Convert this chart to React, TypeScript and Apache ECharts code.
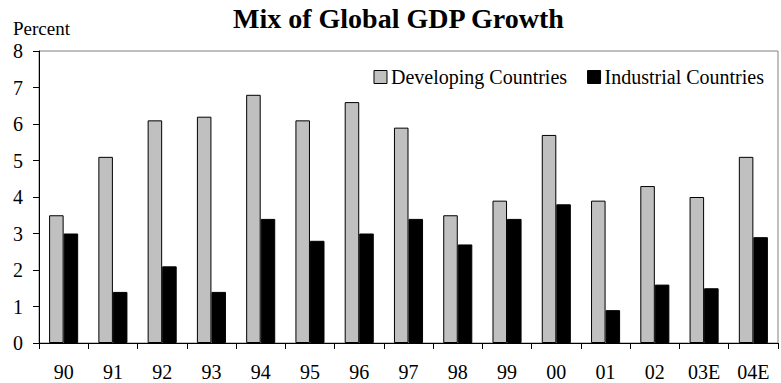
import React, { useEffect, useRef } from "react";
import * as echarts from "echarts";

const years = ["90", "91", "92", "93", "94", "95", "96", "97", "98", "99", "00", "01", "02", "03E", "04E"];
const developing = [3.5, 5.1, 6.1, 6.2, 6.8, 6.1, 6.6, 5.9, 3.5, 3.9, 5.7, 3.9, 4.3, 4.0, 5.1];
const industrial = [3.0, 1.4, 2.1, 1.4, 3.4, 2.8, 3.0, 3.4, 2.7, 3.4, 3.8, 0.9, 1.6, 1.5, 2.9];

const FONT = "Liberation Serif";

export default function App() {
  const ref = useRef<HTMLDivElement>(null);

  useEffect(() => {
    if (!ref.current) return;
    const chart = echarts.init(ref.current, null, { renderer: "svg" });
    chart.setOption({
      animation: false,
      backgroundColor: "#ffffff",
      textStyle: { fontFamily: FONT, color: "#000" },
      title: {
        text: "Mix of Global GDP Growth",
        left: 233,
        top: 4,
        padding: 0,
        textStyle: { fontFamily: FONT, fontWeight: "bold", fontSize: 28, color: "#000" },
      },
      graphic: [
        {
          type: "text",
          left: 13,
          top: 19,
          style: { text: "Percent", fontFamily: FONT, fontSize: 19, fill: "#000" },
        },
      ],
      legend: {
        right: 17,
        top: 67,
        padding: 0,
        itemWidth: 13,
        itemHeight: 13,
        itemGap: 20,
        icon: "rect",
        textStyle: { fontFamily: FONT, fontSize: 20, color: "#000", padding: [0, 0, 0, -1] },
        itemStyle: { borderColor: "#000", borderWidth: 1 },
        data: ["Developing Countries", "Industrial Countries"],
      },
      grid: {
        left: 39,
        right: 3,
        top: 51,
        bottom: 40,
        show: true,
        borderColor: "#808080",
        borderWidth: 1,
        containLabel: false,
      },
      xAxis: {
        type: "category",
        data: years,
        axisLine: { show: true, lineStyle: { color: "#000", width: 1 } },
        axisTick: { show: true, alignWithLabel: false, length: 6, lineStyle: { color: "#000" } },
        axisLabel: { fontFamily: FONT, fontSize: 20, color: "#000", margin: 19, interval: 0 },
      },
      yAxis: {
        type: "value",
        min: 0,
        max: 8,
        interval: 1,
        axisLine: { show: true, lineStyle: { color: "#000", width: 1 } },
        axisTick: { show: true, length: 6, lineStyle: { color: "#000" } },
        axisLabel: { fontFamily: FONT, fontSize: 20, color: "#000", margin: 16 },
        splitLine: { show: false },
      },
      series: [
        {
          name: "Developing Countries",
          type: "bar",
          data: developing,
          barGap: "0%",
          barCategoryGap: "41%",
          itemStyle: { color: "#c0c0c0", borderColor: "#000", borderWidth: 1 },
        },
        {
          name: "Industrial Countries",
          type: "bar",
          data: industrial,
          barGap: "0%",
          barCategoryGap: "41%",
          itemStyle: { color: "#000000", borderColor: "#000", borderWidth: 1 },
        },
      ],
    });
    return () => chart.dispose();
  }, []);

  return (
    <div
      ref={ref}
      style={{ position: "absolute", left: 0, top: 0, width: 781, height: 383 }}
    />
  );
}
